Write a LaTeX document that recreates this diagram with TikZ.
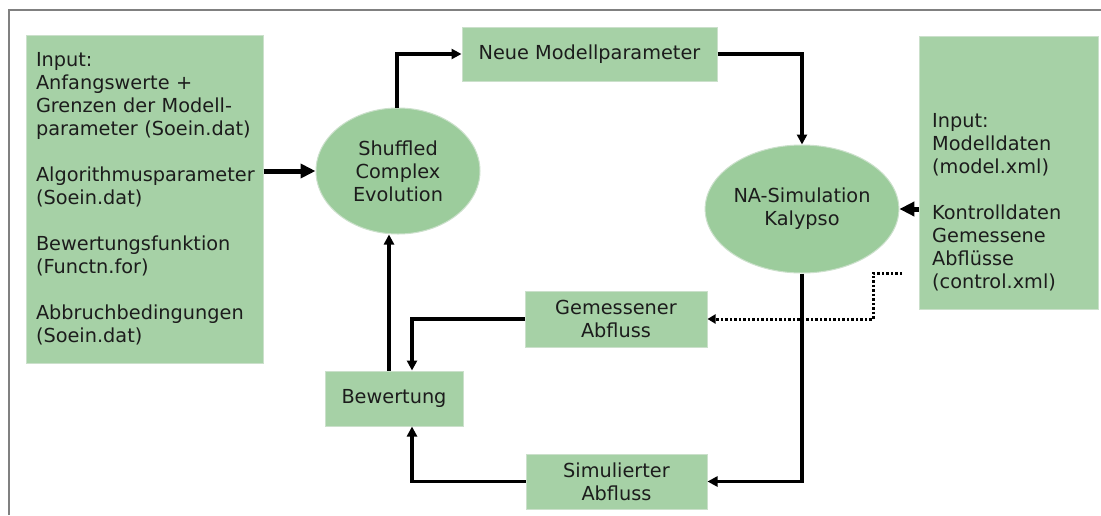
\documentclass[tikz,border=0pt]{standalone}
\usepackage{fontspec}
\setmainfont{DejaVu Sans}
\usetikzlibrary{arrows.meta,shapes.geometric}
\definecolor{boxfill}{HTML}{A6D1A6}
\definecolor{ellfill}{HTML}{9CCC9C}
\definecolor{boxline}{HTML}{CBE0CB}
\definecolor{txt}{HTML}{1C1C1C}
\definecolor{frame}{HTML}{808080}
\tikzset{
  every node/.style={font=\fontsize{19.3}{23}\selectfont, text=txt},
  gbox/.style={rectangle, fill=boxfill, draw=boxline, line width=1pt, inner sep=0pt, align=center},
  gell/.style={ellipse, fill=ellfill, draw=boxline, line width=1pt, inner sep=0pt, align=center},
  conn/.style={line width=3.2pt, -{Triangle[length=10pt,width=10pt]}},
  bigconn/.style={line width=5pt, -{Triangle[length=15pt,width=14pt]}},
  dotconn/.style={line width=3pt, dash pattern=on 2.5pt off 2pt, -{Triangle[length=8pt,width=9pt]}}
}
\begin{document}
\begin{tikzpicture}[x=1pt,y=-1pt]
\useasboundingbox (0,0) rectangle (1101,515);
\fill[white] (0,0) rectangle (1101,515);
% frame
\draw[frame, line width=2pt] (8.5,515) -- (8.5,9.5) -- (1101,9.5);

% left input box
\node[gbox, minimum width=237pt, minimum height=328pt, text width=217pt, align=left] (lin) at (144.5,199)
 {Input:\\Anfangswerte +\\Grenzen der Modell-\\parameter (Soein.dat)\\[23pt]
  Algorithmusparameter\\(Soein.dat)\\[23pt]
  Bewertungsfunktion\\(Functn.for)\\[23pt]
  Abbruchbedingungen\\(Soein.dat)};

% right input box
\node[gbox, minimum width=179pt, minimum height=273pt] (rin) at (1008.5,172.5) {};
\node[anchor=north west, inner sep=0pt, align=left] (rintext) at (932,113)
 {Input:\\Modelldaten\\(model.xml)\\[23pt]Kontrolldaten\\Gemessene\\Abflüsse\\(control.xml)};

% ellipses
\node[gell, minimum width=164pt, minimum height=126pt] (sce) at (398,171) {Shuffled\\Complex\\Evolution};
\node[gell, minimum width=174pt, minimum height=128pt] (na) at (802,209) {NA-Simulation\\Kalypso};

% boxes
\node[gbox, minimum width=255pt, minimum height=54pt] (neue) at (589.5,54) {Neue Modellparameter};
\node[gbox, minimum width=182pt, minimum height=56pt] (gem) at (616,319) {Gemessener\\Abfluss};
\node[gbox, minimum width=181pt, minimum height=55pt] (sim) at (616.5,481.5) {Simulierter\\Abfluss};
\node[gbox, minimum width=138pt, minimum height=55pt] (bew) at (394,398.5) {Bewertung};

\coordinate (dotstart) at (902,273);

% connectors
\draw[bigconn] (lin.east |- sce.west) -- (sce.west);
\draw[conn] ([xshift=-1pt]sce.north) |- (neue.west);
\draw[conn] (neue.east) -| (na.north);
\draw[bigconn] (rin.west |- na.east) -- (na.east);
\draw[dotconn] (dotstart) -- (873,273) |- (gem.east);
\draw[conn] (na.south) |- (sim.east);
\draw[conn] (gem.west) -| ([xshift=18pt]bew.north);
\draw[conn] (sim.west) -| ([xshift=18pt]bew.south);
\draw[conn] ([xshift=-5pt]bew.north) -- ([xshift=-5pt]bew.north |- sce.south);
\end{tikzpicture}
\end{document}
